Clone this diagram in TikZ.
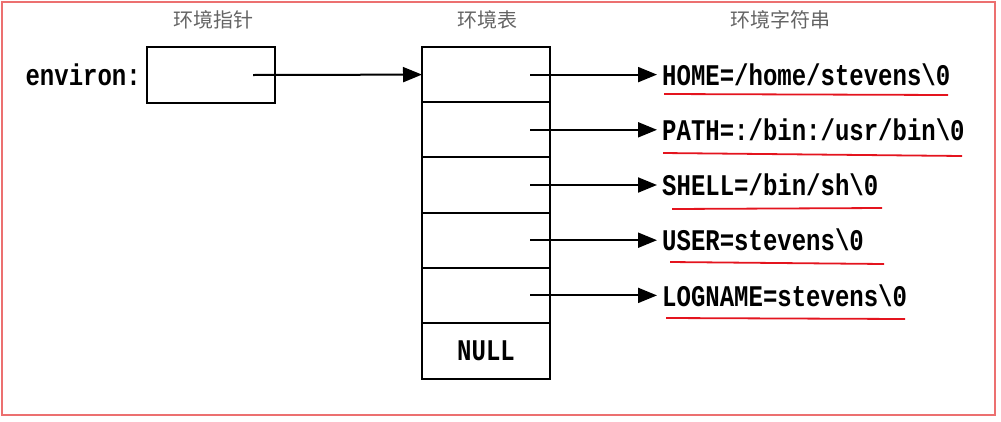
\documentclass[tikz,border=0pt]{standalone}
\usepackage{fontspec}
\usepackage{graphicx}
\setmonofont{Liberation Mono}
\newfontfamily\cjk{Noto Sans CJK SC}
\usetikzlibrary{arrows.meta}
\definecolor{framered}{RGB}{236,112,112}
\definecolor{ulred}{RGB}{228,20,30}
\definecolor{hdrgray}{RGB}{100,100,100}
\newcommand\talltext[1]{\scalebox{1}[1.25]{#1}}
\tikzset{
  x=1pt, y=-1pt,
  cell/.style={draw, line width=2pt, minimum width=128pt, minimum height=55.2pt, inner sep=0pt, outer sep=0pt},
  mono/.style={font=\fontsize{24}{26}\selectfont\ttfamily\bfseries, inner sep=0pt},
  hdr/.style={font=\fontsize{20}{22}\selectfont\cjk, text=hdrgray, inner sep=0pt},
  arr/.style={line width=2pt, -{Triangle[length=19pt,width=15pt]}},
  ul/.style={draw=ulred, line width=1.8pt},
}
\begin{document}
\begin{tikzpicture}
\useasboundingbox (0,0) rectangle (1001,421);
\draw[framered, line width=1.4pt] (2,2) rectangle (995,415);
% headers
\node[hdr] (h1) at (213,20) {环境指针};
\node[hdr] (h2) at (487,20) {环境表};
\node[hdr] (h3) at (780,20) {环境字符串};
% environ pointer
\node[cell, minimum height=56pt] (env) at (211,75) {};
\node[mono, anchor=east] (envl) at (141,75) {\talltext{environ:}};
% table cells
\node[cell] (c1) at (486,74.6) {};
\node[cell] (c2) at (486,129.8) {};
\node[cell] (c3) at (486,185.0) {};
\node[cell] (c4) at (486,240.2) {};
\node[cell] (c5) at (486,295.4) {};
\node[cell, minimum height=55.8pt] (c6) at (486,350.9) {};
\node[mono] (null) at (c6.center) {\talltext{NULL}};
% strings
\node[mono, anchor=west] (s1) at (662,74.6) {\talltext{HOME=/home/stevens\textbackslash 0}};
\node[mono, anchor=west] (s2) at (662,129.8) {\talltext{PATH=:/bin:/usr/bin\textbackslash 0}};
\node[mono, anchor=west] (s3) at (662,185.0) {\talltext{SHELL=/bin/sh\textbackslash 0}};
\node[mono, anchor=west] (s4) at (662,240.2) {\talltext{USER=stevens\textbackslash 0}};
\node[mono, anchor=west] (s5) at (662,295.4) {\talltext{LOGNAME=stevens\textbackslash 0}};
% arrows
\draw[arr] ([xshift=42pt]env.center) -- (c1.west);
\foreach \i in {1,...,5}{
  \draw[arr] ([xshift=44pt]c\i.center) -- ([xshift=-5pt]s\i.west);
}
% red underlines
\draw[ul] (664,94) -- (948,95);
\draw[ul] (663,153) -- (962,156);
\draw[ul] (672,209) -- (882,208);
\draw[ul] (670,262) -- (884,264);
\draw[ul] (666,318) -- (905,319);
\end{tikzpicture}
\end{document}
